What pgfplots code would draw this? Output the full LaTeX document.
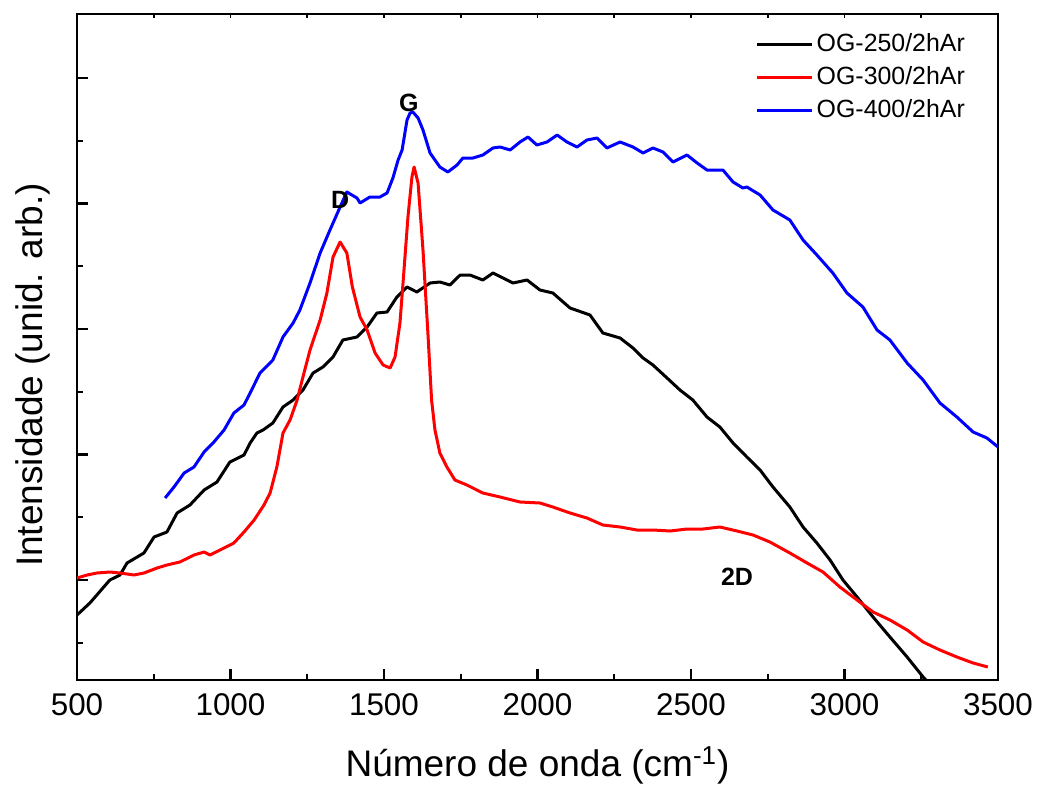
\documentclass[border=0pt]{standalone}
\usepackage{fontspec}
\setmainfont{Liberation Sans}
\usepackage{pgfplots}
\pgfplotsset{compat=1.18}

\begin{document}
\begin{tikzpicture}
\begin{axis}[
  name=ax,
  scale only axis, width=460.5pt, height=333pt,
  xmin=500, xmax=3500, ymin=0, ymax=666,
  clip=true,
  axis line style={line width=1.3pt},
  xtick={500,1000,...,3500}, minor x tick num=1,
  ytick={100,225.5,351,476.5,602}, yticklabels={},
  minor ytick={37.25,162.75,288.25,413.75,539.25},
  xtick pos=bottom, ytick pos=left,
  tick align=inside,
  major tick length=5.5pt, minor tick length=2.8pt,
  every tick/.style={black, line width=1.2pt},
  xticklabel style={font=\fontsize{15.7}{18}\selectfont, yshift=-3.3pt},
  /pgf/number format/assume math mode=true,
  /pgf/number format/1000 sep={},
  xlabel={Número de onda (cm\textsuperscript{-1})},
  xlabel style={font=\fontsize{18.5}{22}\selectfont, at={(axis description cs:0.5,-0.128)}, anchor=center},
  ylabel={Intensidade (unid. arb.)},
  ylabel style={font=\fontsize{18.5}{22}\selectfont, at={(axis description cs:-0.0478,0.458)}, anchor=center},
  legend style={at={(0.73,0.982)}, anchor=north west, draw=none, fill=none,
    font=\fontsize{12.45}{14}\selectfont, row sep=2pt,
    nodes={inner sep=1.5pt, text height=9pt, text depth=2.5pt}},
  legend cell align=left,
  legend image code/.code={\draw[#1, line width=1.5pt] (0pt,0pt) -- (27.5pt,0pt);},
  every axis plot/.append style={line width=1.5pt, line join=round, mark=none},
]
\addplot[black] coordinates {
(500,65) (542,77) (607,100) (640,105) (663,117) (718,127) (751,143) (793,148)
(826,167) (868,175) (914,190) (956,198) (998,218) (1044,225) (1064,237) (1086,247)
(1106,250) (1138,257) (1171,273) (1204,280) (1236,290) (1269,307) (1301,313)
(1334,323) (1366,340) (1412,343) (1445,353) (1477,367) (1510,368) (1542,383)
(1575,393) (1607,388) (1650,397) (1682,398) (1715,395) (1748,405) (1780,405)
(1822,400) (1855,407) (1888,402) (1920,397) (1966,400) (2008,390) (2050,387)
(2106,372) (2171,365) (2213,347) (2269,342) (2311,332) (2344,322) (2376,315)
(2422,302) (2464,290) (2506,280) (2552,263) (2594,253) (2637,237) (2682,223)
(2725,210) (2767,193) (2822,173) (2865,153) (2910,137) (2953,120) (2995,100)
(3041,83) (3093,63) (3148,43) (3204,23) (3256,3) (3295,-10)
};
\addlegendentry{OG-250/2hAr}
\addplot[red] coordinates {
(500,102) (533,105) (565,107) (607,108) (640,107) (686,105) (718,107) (761,112)
(793,115) (835,118) (881,125) (914,128) (933,125) (979,132) (1011,137) (1044,148)
(1077,160) (1109,175) (1129,187) (1151,213) (1171,247) (1194,260) (1217,280)
(1236,303) (1259,330) (1292,360) (1314,387) (1334,423) (1357,438) (1379,427)
(1397,393) (1422,363) (1445,350) (1471,327) (1497,315) (1520,312) (1536,323)
(1552,357) (1562,397) (1578,463) (1591,503) (1598,513) (1611,497) (1627,430)
(1643,347) (1655,280) (1666,250) (1682,227) (1705,213) (1731,200) (1770,195)
(1822,187) (1878,183) (1943,178) (2008,177) (2050,173) (2106,167) (2161,162)
(2213,155) (2269,153) (2324,150) (2376,150) (2432,149) (2487,151) (2539,151)
(2594,153) (2650,149) (2702,145) (2757,138) (2822,127) (2878,117) (2930,108)
(2985,93) (3041,80) (3093,68) (3148,60) (3204,50) (3256,38) (3311,30) (3366,23)
(3419,17) (3467,13)
};
\addlegendentry{OG-300/2hAr}
\addplot[blue] coordinates {
(787,182) (816,193) (849,207) (881,213) (914,228) (946,238) (979,250) (1011,267)
(1044,275) (1064,287) (1096,307) (1138,320) (1171,343) (1204,357) (1226,370)
(1259,397) (1292,427) (1324,450) (1357,473) (1379,488) (1412,482) (1422,477)
(1454,483) (1487,483) (1510,487) (1529,502) (1546,520) (1559,530) (1575,560)
(1585,567) (1594,568) (1611,562) (1627,550) (1650,527) (1682,513) (1708,508)
(1738,515) (1757,522) (1790,522) (1822,525) (1855,532) (1878,533) (1911,530)
(1943,538) (1969,543) (1998,535) (2031,538) (2064,545) (2096,538) (2129,533)
(2161,540) (2194,542) (2226,532) (2269,538) (2311,533) (2344,527) (2376,532)
(2409,528) (2441,518) (2487,525) (2520,517) (2552,510) (2604,510) (2637,498)
(2669,492) (2682,493) (2725,485) (2767,470) (2822,460) (2865,440) (2910,425)
(2962,407) (3008,387) (3060,373) (3106,350) (3148,340) (3204,317) (3256,300)
(3311,277) (3366,263) (3419,248) (3464,242) (3500,233)
};
\addlegendentry{OG-400/2hAr}
\end{axis}
\begin{axis}[
  scale only axis, width=460.5pt, height=333pt,
  xmin=500, xmax=3500, ymin=0, ymax=666,
  hide y axis, axis x line*=top,
  x axis line style={draw=none},
  xtick={500,1000,...,3500}, minor x tick num=1, xticklabels={},
  xtick pos=top, tick align=inside,
  major tick length=2pt, minor tick length=2pt,
  every tick/.style={black, line width=0.8pt},
]
\addplot[draw=none] coordinates {(500,0)};
\end{axis}
\begin{axis}[
  scale only axis, width=460.5pt, height=333pt,
  xmin=500, xmax=3500, ymin=0, ymax=666,
  axis lines=none, clip=false,
]
\node[font=\bfseries\fontsize{12.5}{14}\selectfont] at (axis cs:1357,480) {D};
\node[font=\bfseries\fontsize{12.5}{14}\selectfont] at (axis cs:1581,577) {G};
\node[font=\bfseries\fontsize{12.5}{14}\selectfont] at (axis cs:2650,103) {2D};
\end{axis}
\pgfresetboundingbox
\path ([xshift=-38.5pt,yshift=-54.5pt]ax.south west) rectangle ([xshift=20.5pt,yshift=7pt]ax.north east);
\end{tikzpicture}
\end{document}
